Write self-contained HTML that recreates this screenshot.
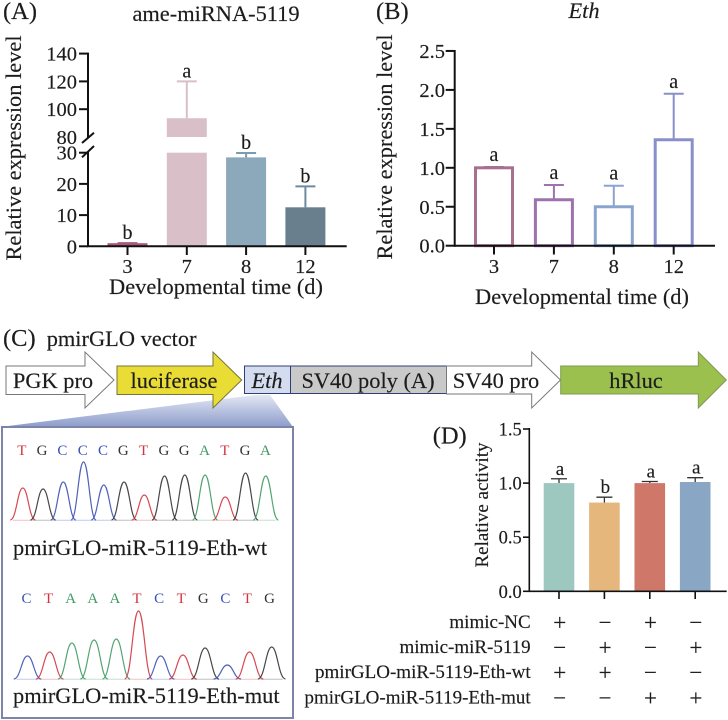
<!DOCTYPE html>
<html lang="en">
<head>
<meta charset="utf-8">
<title>ame-miRNA-5119 and Eth expression figure</title>
<style>
html,body{margin:0;padding:0;background:#fff;}
svg{display:block;filter:blur(0.3px);}
text{font-family:"Liberation Serif",serif;fill:#1c1c1c;stroke:#1c1c1c;stroke-width:0.15px;}
.m{font-size:22.4px;}
.p{font-size:24.5px;}
.t{font-size:20.5px;}
.s{font-size:19px;}
.d{font-size:18.5px;}
.l{font-size:20px;}
.ld{font-size:19px;}
.sign{font-size:23px;}
.q{font-size:15px;stroke:none;}
</style>
</head>
<body>
<svg id="fig" width="728" height="720" viewBox="0 0 728 720" xmlns="http://www.w3.org/2000/svg">
<defs>
<linearGradient id="zoomGrad" x1="0" y1="0" x2="0" y2="1">
<stop offset="0" stop-color="#e3e7f3"/>
<stop offset="1" stop-color="#8c9ccb"/>
</linearGradient>
</defs>

<g id="panelA"></g>
<g id="panelB"></g>
<g id="panelD"></g>

<text class="p" x="3" y="19">(A)</text>
<text class="m" x="216" y="21" text-anchor="middle">ame-miRNA-5119</text>
<text class="m" x="216" y="294" text-anchor="middle">Developmental time (d)</text>
<text class="m" transform="translate(21,148) rotate(-90)" text-anchor="middle">Relative expression level</text>

<text class="p" x="376" y="19">(B)</text>
<text class="m" x="584" y="18" text-anchor="middle" font-style="italic">Eth</text>
<text class="m" x="582" y="304" text-anchor="middle">Developmental time (d)</text>
<text class="m" transform="translate(392,147) rotate(-90)" text-anchor="middle">Relative expression level</text>

<text class="p" x="3" y="346">(C)</text>
<text class="m" x="46.7" y="346">pmirGLO vector</text>

<polygon points="0,427 255,395 270,395 293,427" fill="url(#zoomGrad)"/>

<polygon points="6,366 85,366 85,352 114,380 85,408 85,394.5 6,394.5" fill="#fff" stroke="#777" stroke-width="1"/>
<polygon points="117,366 213,366 213,352 241.7,380 213,408 213,394.5 117,394.5" fill="#e9dc35" stroke="#77733a" stroke-width="1"/>
<rect x="244.5" y="366" width="46" height="27.5" fill="#d4ddf0" stroke="#2f3f73" stroke-width="1"/>
<rect x="290.5" y="366" width="156" height="27.5" fill="#c9c9c9" stroke="#2f3f73" stroke-width="1"/>
<polygon points="446.5,366 531.7,366 531.7,352 560.5,380 531.7,408 531.7,394 446.5,394" fill="#fff" stroke="#777" stroke-width="1"/>
<polygon points="560.7,366 698.3,366 698.3,352 726.3,380 698.3,408 698.3,394 560.7,394" fill="#9bc04e" stroke="#7f9a55" stroke-width="1"/>

<text class="m" x="53" y="388" text-anchor="middle">PGK pro</text>
<text class="m" x="174" y="388" text-anchor="middle">luciferase</text>
<text class="m" x="267" y="388" text-anchor="middle" font-style="italic">Eth</text>
<text class="m" x="368" y="388" text-anchor="middle">SV40 poly (A)</text>
<text class="m" x="496" y="388" text-anchor="middle">SV40 pro</text>
<text class="m" x="636" y="388" text-anchor="middle">hRluc</text>

<rect x="2" y="427" width="291" height="291" fill="#fff" stroke="#7d84a8" stroke-width="2"/>
<g id="chromaWt"></g>
<g id="chromaMut"></g>
<text class="m" x="13" y="555">pmirGLO-miR-5119-Eth-wt</text>
<text class="m" x="13" y="703">pmirGLO-miR-5119-Eth-mut</text>

<text class="p" x="432.7" y="443.5">(D)</text>
<text class="s" transform="translate(488,505) rotate(-90)" text-anchor="middle">Relative activity</text>
<g id="matrix"></g>

<script>
var timeCategories = ['3', '7', '8', '12'];

var mirnaValues = [1, 93.5, 28.5, 12.5];
var mirnaErrorTops = [1, 120, 29.9, 19.2];
var mirnaLetters = ['b', 'a', 'b', 'b'];
var mirnaTicks = [0, 10, 20, 30, 100, 120, 140];
var mirnaTickLabels = ['0', '10', '20', '30', '100', '120', '140'];
var mirnaBreakLabels = ['80'];
var mirnaColors = ['#a85a7c', '#d8bfc8', '#8ba9ba', '#697f8e'];
var mirnaErrorColors = ['#a85a7c', '#d8bfc8', '#7b9bae', '#6d8b9f'];

var ethValues = [1.0, 0.59, 0.5, 1.36];
var ethErrorTops = [1.01, 0.78, 0.77, 1.95];
var ethLetters = ['a', 'a', 'a', 'a'];
var ethTicks = [0, 0.5, 1, 1.5, 2, 2.5];
var ethTickLabels = ['0.0', '0.5', '1.0', '1.5', '2.0', '2.5'];
var ethColors = ['#a8708f', '#9d72ad', '#8aa5cd', '#8a8fca'];

var activityValues = [1.0, 0.82, 1.0, 1.01];
var activityErrorTops = [1.04, 0.87, 1.015, 1.05];
var activityLetters = ['a', 'b', 'a', 'a'];
var activityTicks = [0, 0.5, 1, 1.5];
var activityTickLabels = ['0.0', '0.5', '1.0', '1.5'];
var activityColors = ['#9dc8bf', '#e6b77c', '#cf7769', '#89a6c5'];

var matrixLabels = ['mimic-NC', 'mimic-miR-5119', 'pmirGLO-miR-5119-Eth-wt', 'pmirGLO-miR-5119-Eth-mut'];
var matrixSigns = [
  ['+', '\u2212', '+', '\u2212'],
  ['\u2212', '+', '\u2212', '+'],
  ['+', '+', '\u2212', '\u2212'],
  ['\u2212', '\u2212', '+', '+']
];

var wtBases = ['T', 'G', 'C', 'C', 'C', 'G', 'T', 'G', 'G', 'A', 'T', 'G', 'A'];
var wtPeaks = [32, 31, 38, 58, 35, 38, 25, 44, 45, 45, 23, 47, 44];
var mutBases = ['C', 'T', 'A', 'A', 'A', 'T', 'C', 'T', 'G', 'C', 'T', 'G'];
var mutPeaks = [23, 27, 36, 39, 40, 68, 23, 24, 31, 14, 27, 32];
var baseColors = { A: '#3f9a63', C: '#3c50b5', G: '#333333', T: '#d2343f' };

var NS = 'http://www.w3.org/2000/svg';

function make(parent, tag, attrs, content) {
  var el = document.createElementNS(NS, tag);
  for (var k in attrs) el.setAttribute(k, attrs[k]);
  if (content !== undefined) el.textContent = content;
  parent.appendChild(el);
  return el;
}

function yMirna(v) {
  if (v <= 30) return 246.3 - v * 3.12;
  return 137 - (v - 80) * 1.39;
}
function xMirna(i) { return 127.5 + i * 59.3; }
function yEth(v) { return 245.7 - v * 77.9; }
function xEth(i) { return 494 + i * 59.9; }
function yActivity(v) { return 591.3 - v * 108.2; }
function xActivity(i) { return 559 + i * 45.4; }

/* Panel A */
var gA = document.getElementById('panelA');
mirnaValues.forEach(function (v, i) {
  var x = xMirna(i), el;
  el = make(gA, 'line', { x1: x, x2: x, y1: yMirna(mirnaErrorTops[i]), y2: yMirna(v), stroke: mirnaErrorColors[i], 'stroke-width': 2 });
  
  
  el = make(gA, 'line', { x1: x - 10, x2: x + 10, y1: yMirna(mirnaErrorTops[i]), y2: yMirna(mirnaErrorTops[i]), stroke: mirnaErrorColors[i], 'stroke-width': 2 });
  
  
  if (v > 30) {
    el = make(gA, 'rect', { x: x - 20, y: yMirna(v), width: 40, height: yMirna(80) - yMirna(v), fill: mirnaColors[i] });
    
    
    el = make(gA, 'rect', { x: x - 20, y: yMirna(30), width: 40, height: yMirna(0) - yMirna(30), fill: mirnaColors[i] });
    
    
  } else {
    el = make(gA, 'rect', { x: x - 20, y: yMirna(v), width: 40, height: yMirna(0) - yMirna(v), fill: mirnaColors[i] });
    
    
  }
  el = make(gA, 'text', { class: 'l', x: x, y: yMirna(mirnaErrorTops[i]) - 4, 'text-anchor': 'middle' }, mirnaLetters[i]);
  
  
  el = make(gA, 'line', { x1: x, x2: x, y1: 246.3, y2: 255, stroke: '#111', 'stroke-width': 2 });
  
  
  el = make(gA, 'text', { class: 't', x: x, y: 273, 'text-anchor': 'middle' }, timeCategories[i]);
  
  
});
mirnaTicks.forEach(function (t, i) {
  var el = make(gA, 'line', { x1: 79, x2: 88, y1: yMirna(t), y2: yMirna(t), stroke: '#111', 'stroke-width': 2 });
  
  
  el = make(gA, 'text', { class: 't', x: 77, y: yMirna(t) + 7, 'text-anchor': 'end' }, mirnaTickLabels[i]);
  
  
});
(function () {
  var el = make(gA, 'text', { class: 't', x: 77, y: yMirna(80) + 7, 'text-anchor': 'end' }, mirnaBreakLabels[0]);
  
  
  el = make(gA, 'line', { x1: 88, x2: 88, y1: yMirna(140) - 1, y2: 138, stroke: '#111', 'stroke-width': 2 });
  
  
  el = make(gA, 'line', { x1: 88, x2: 88, y1: 152, y2: 247, stroke: '#111', 'stroke-width': 2 });
  
  
  el = make(gA, 'line', { x1: 82, x2: 94, y1: 143, y2: 132.7, stroke: '#111', 'stroke-width': 2 });
  
  
  el = make(gA, 'line', { x1: 82, x2: 94, y1: 157.3, y2: 146, stroke: '#111', 'stroke-width': 2 });
  
  
  el = make(gA, 'line', { x1: 87, x2: 346.7, y1: 246.3, y2: 246.3, stroke: '#111', 'stroke-width': 2 });
  
  
})();

/* Panel B */
var gB = document.getElementById('panelB');
ethValues.forEach(function (v, i) {
  var x = xEth(i), el;
  el = make(gB, 'line', { x1: x, x2: x, y1: yEth(ethErrorTops[i]), y2: yEth(v), stroke: ethColors[i], 'stroke-width': 2 });
  
  
  el = make(gB, 'line', { x1: x - 10, x2: x + 10, y1: yEth(ethErrorTops[i]), y2: yEth(ethErrorTops[i]), stroke: ethColors[i], 'stroke-width': 2 });
  
  
  el = make(gB, 'rect', { x: x - 18.5, y: yEth(v), width: 37, height: yEth(0) - yEth(v), fill: '#fff', stroke: ethColors[i], 'stroke-width': 3 });
  
  
  el = make(gB, 'text', { class: 'l', x: x, y: yEth(ethErrorTops[i]) - 6, 'text-anchor': 'middle' }, ethLetters[i]);
  
  
  el = make(gB, 'line', { x1: x, x2: x, y1: 245.7, y2: 254.5, stroke: '#111', 'stroke-width': 2 });
  
  
  el = make(gB, 'text', { class: 't', x: x, y: 273, 'text-anchor': 'middle' }, timeCategories[i]);
  
  
});
ethTicks.forEach(function (t, i) {
  var el = make(gB, 'line', { x1: 445.7, x2: 455, y1: yEth(t), y2: yEth(t), stroke: '#111', 'stroke-width': 2 });
  
  
  el = make(gB, 'text', { class: 't', x: 445, y: yEth(t) + 7, 'text-anchor': 'end' }, ethTickLabels[i]);
  
  
});
(function () {
  var el = make(gB, 'line', { x1: 454.7, x2: 454.7, y1: yEth(2.5) - 1, y2: 246.7, stroke: '#111', 'stroke-width': 2 });
  
  
  el = make(gB, 'line', { x1: 454, x2: 715, y1: 245.7, y2: 245.7, stroke: '#111', 'stroke-width': 2 });
  
  
})();

/* Panel D */
var gD = document.getElementById('panelD');
activityValues.forEach(function (v, i) {
  var x = xActivity(i), el;
  el = make(gD, 'line', { x1: x, x2: x, y1: yActivity(activityErrorTops[i]), y2: yActivity(v), stroke: '#333', 'stroke-width': 1.3 });
  
  
  el = make(gD, 'line', { x1: x - 8, x2: x + 8, y1: yActivity(activityErrorTops[i]), y2: yActivity(activityErrorTops[i]), stroke: '#333', 'stroke-width': 1.3 });
  
  
  el = make(gD, 'rect', { x: x - 15.3, y: yActivity(v), width: 30.6, height: yActivity(0) - yActivity(v), fill: activityColors[i] });
  
  
  el = make(gD, 'text', { class: 'ld', x: x + 1, y: yActivity(activityErrorTops[i]) - 4, 'text-anchor': 'middle' }, activityLetters[i]);
  
  
  el = make(gD, 'line', { x1: x, x2: x, y1: 591.3, y2: 599, stroke: '#111', 'stroke-width': 1.6 });
  
  
});
activityTicks.forEach(function (t, i) {
  var el = make(gD, 'line', { x1: 523, x2: 530, y1: yActivity(t), y2: yActivity(t), stroke: '#111', 'stroke-width': 1.6 });
  
  
  el = make(gD, 'text', { class: 'd', x: 521.7, y: yActivity(t) + 6.5, 'text-anchor': 'end' }, activityTickLabels[i]);
  
  
});
(function () {
  var el = make(gD, 'line', { x1: 529.3, x2: 529.3, y1: yActivity(1.5) - 1, y2: 592, stroke: '#111', 'stroke-width': 1.6 });
  
  
  el = make(gD, 'line', { x1: 529, x2: 726.7, y1: 591.3, y2: 591.3, stroke: '#111', 'stroke-width': 1.6 });
  
  
})();

/* Treatment matrix */
var gM = document.getElementById('matrix');
function yRow(r) { return 623 + r * 25.1; }
matrixLabels.forEach(function (label, r) {
  var el = make(gM, 'text', { class: 's', x: 530.7, y: yRow(r) + 5, 'text-anchor': 'end' }, label);
  
  
  matrixSigns[r].forEach(function (sign, c) {
    var s = make(gM, 'text', { class: 'sign', x: xActivity(c) + 0.7, y: yRow(r) + 7, 'text-anchor': 'middle' }, sign);
    
    
  });
});

/* Chromatograms */
function drawChroma(gid, bases, peaks, x0, dx, base, letterY, peakDx) {
  var g = document.getElementById(gid);
  bases.forEach(function (b, i) {
    var c = x0 + i * peakDx, w = peakDx * 0.62, top = base - peaks[i], el;
    var d = 'M' + (c - w) + ' ' + base +
      ' C' + (c - w * 0.5) + ' ' + base + ' ' + (c - w * 0.42) + ' ' + top + ' ' + c + ' ' + top +
      ' C' + (c + w * 0.42) + ' ' + top + ' ' + (c + w * 0.5) + ' ' + base + ' ' + (c + w) + ' ' + base;
    el = make(g, 'path', { d: d, fill: 'none', stroke: baseColors[b], 'stroke-width': 1.2, opacity: 0.9 });
    
    
    el = make(g, 'line', { x1: c - w * 0.8, x2: c + w * 0.8, y1: base + 0.3, y2: base + 0.3, stroke: baseColors[b], 'stroke-width': 1, opacity: 0.3 });
    
    
    el = make(g, 'text', { class: 'q', x: x0 + i * dx - 1, y: letterY, 'text-anchor': 'middle', style: 'fill:' + baseColors[b] }, b);
    
    
  });
}
drawChroma('chromaWt', wtBases, wtPeaks, 22.8, 20.3, 520, 455, 20.25);
drawChroma('chromaMut', mutBases, mutPeaks, 27.5, 22.1, 679, 603, 22.2);
</script>
</svg>
</body>
</html>
